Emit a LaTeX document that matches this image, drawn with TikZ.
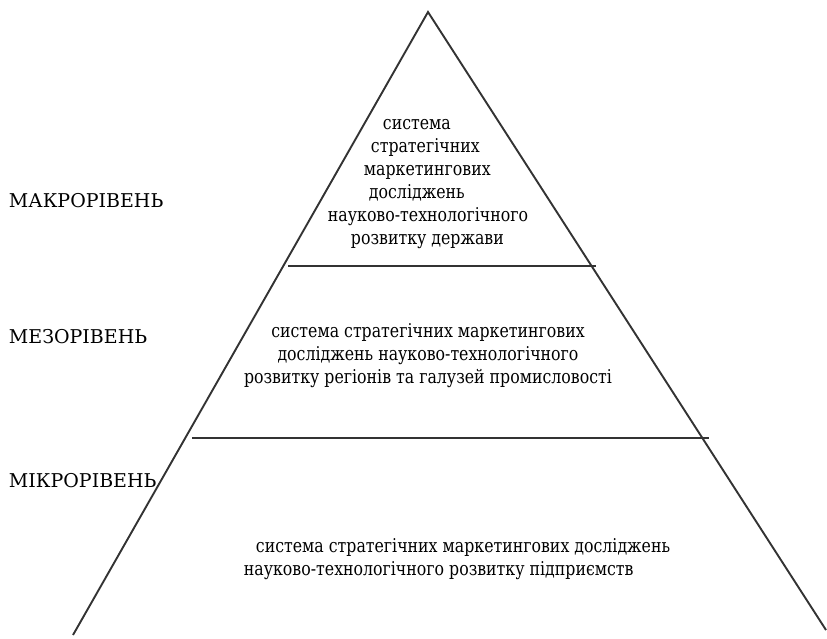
\documentclass[tikz,border=0pt]{standalone}
\usepackage{fontspec}
\setmainfont{DejaVu Serif}
\newfontfamily\blockfont{DejaVu Serif}[FakeStretch=0.83]
\usepackage{tikz}

\begin{document}
\begin{tikzpicture}[x=1pt, y=-1pt, line width=1.9pt, draw=black!80]
    \tikzstyle{level}=[font=\fontsize{19}{23}\selectfont, inner sep=0pt, anchor=base west]
    \tikzstyle{block}=[font=\blockfont\fontsize{19}{23}\selectfont, inner sep=0pt]
    \useasboundingbox (0,0) rectangle (827,638);

    % Pyramid outline
    \coordinate (apex) at (428,12);
    \coordinate (baseL) at (73,635);
    \coordinate (baseR) at (826,630);
    \draw (baseL) -- (apex) -- (baseR);

    % Dividing lines between levels
    \coordinate (cut1L) at (288,266);
    \coordinate (cut1R) at (596,266);
    \coordinate (cut2L) at (192,438);
    \coordinate (cut2R) at (709,438);
    \draw (cut1L) -- (cut1R);
    \draw (cut2L) -- (cut2R);

    % Level names
    \node[level] (macro) at (8,207) {МАКРОРІВЕНЬ};
    \node[level] (meso) at (8,343) {МЕЗОРІВЕНЬ};
    \node[level] (micro) at (8,487) {МІКРОРІВЕНЬ};

    % Texts inside the pyramid (base = last line)
    \node[block, anchor=base west, align=left] (top) at (327,244) {%
        \hspace*{55pt}система\\
        \hspace*{43pt}стратегічних\\
        \hspace*{36pt}маркетингових\\
        \hspace*{41pt}досліджень\\
        науково-технологічного\\
        \hspace*{23pt}розвитку держави};
    \node[block, anchor=base, align=center] (middle) at (428,383) {%
        система стратегічних маркетингових\\
        досліджень науково-технологічного\\
        розвитку регіонів та галузей промисловості};
    \node[block, anchor=base west, align=left] (bottom) at (243,575) {%
        \hspace*{12pt}система стратегічних маркетингових досліджень\\
        науково-технологічного розвитку підприємств};
\end{tikzpicture}
\end{document}
